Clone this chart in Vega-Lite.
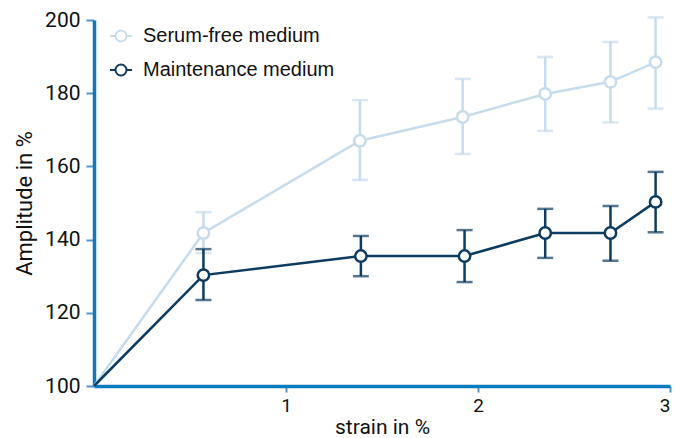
{
  "$schema": "https://vega.github.io/schema/vega-lite/v6.json",
  "width": 576,
  "height": 366,
  "autosize": {"type": "none"},
  "padding": {"left": 94, "top": 20, "right": 6, "bottom": 52},
  "background": "white",
  "config": {"view": {"stroke": null}, "axis": {"grid": false}},
  "data": {
    "values": [
      {"series": "Serum-free medium", "strain": 0, "amp": 100},
      {"series": "Serum-free medium", "strain": 0.57, "amp": 141.8, "lo": 136.3, "hi": 147.5},
      {"series": "Serum-free medium", "strain": 1.385, "amp": 167, "lo": 156.3, "hi": 178.1},
      {"series": "Serum-free medium", "strain": 1.92, "amp": 173.5, "lo": 163.4, "hi": 183.9},
      {"series": "Serum-free medium", "strain": 2.35, "amp": 179.8, "lo": 169.7, "hi": 189.9},
      {"series": "Serum-free medium", "strain": 2.69, "amp": 183.1, "lo": 172, "hi": 194},
      {"series": "Serum-free medium", "strain": 2.925, "amp": 188.5, "lo": 175.8, "hi": 200.7},
      {"series": "Maintenance medium", "strain": 0, "amp": 100},
      {"series": "Maintenance medium", "strain": 0.57, "amp": 130.3, "lo": 123.5, "hi": 137.4},
      {"series": "Maintenance medium", "strain": 1.39, "amp": 135.5, "lo": 130, "hi": 141},
      {"series": "Maintenance medium", "strain": 1.93, "amp": 135.5, "lo": 128.4, "hi": 142.6},
      {"series": "Maintenance medium", "strain": 2.35, "amp": 141.8, "lo": 135, "hi": 148.4},
      {"series": "Maintenance medium", "strain": 2.69, "amp": 141.8, "lo": 134.2, "hi": 149.2},
      {"series": "Maintenance medium", "strain": 2.925, "amp": 150.3, "lo": 142, "hi": 158.5}
    ]
  },
  "encoding": {
    "x": {
      "field": "strain",
      "type": "quantitative",
      "scale": {"domain": [0, 3], "nice": false, "zero": false},
      "axis": {
        "values": [1, 2, 3],
        "title": "strain in %",
        "domainColor": "#0b7bbd",
        "domainWidth": 3.5,
        "tickColor": "#4f93cc",
        "tickWidth": 2,
        "tickSize": 6,
        "labelFont": "Roboto",
        "labelFontSize": 19,
        "labelColor": "#111111",
        "labelPadding": 4,
        "titleFont": "Roboto",
        "titleFontSize": 21,
        "titleFontWeight": "normal",
        "titleColor": "#111111",
        "titlePadding": 1
      }
    }
  },
  "layer": [
    {
      "transform": [{"filter": "datum.series == 'Serum-free medium'"}],
      "mark": {"type": "line", "strokeWidth": 2.5, "color": "#c6dcec"},
      "encoding": {
        "y": {
          "field": "amp",
          "type": "quantitative",
          "title": "Amplitude in %",
          "scale": {"domain": [100, 200], "nice": false, "zero": false},
          "axis": {
            "values": [100, 120, 140, 160, 180, 200],
            "domainColor": "#0b7bbd",
            "domainWidth": 3.5,
            "tickColor": "#4f93cc",
            "tickWidth": 2,
            "tickSize": 8,
            "labelFont": "Roboto",
            "labelFontSize": 21,
            "labelColor": "#111111",
            "labelPadding": 6,
            "titleFont": "Roboto",
            "titleFontSize": 22,
            "titleFontWeight": "normal",
            "titleColor": "#111111",
            "titlePadding": 8
          }
        }
      }
    },
    {
      "transform": [{"filter": "datum.series == 'Serum-free medium' && isValid(datum.lo)"}],
      "mark": {"type": "errorbar", "color": "#c6dcec", "ticks": {"size": 16, "thickness": 2.5}, "thickness": 2.5},
      "encoding": {
        "y": {"field": "lo", "type": "quantitative", "title": "Amplitude in %"},
        "y2": {"field": "hi"}
      }
    },
    {
      "transform": [{"filter": "datum.series == 'Maintenance medium'"}],
      "mark": {"type": "line", "strokeWidth": 2.5, "color": "#0d3c60"},
      "encoding": {
        "y": {"field": "amp", "type": "quantitative", "title": "Amplitude in %"}
      }
    },
    {
      "transform": [{"filter": "datum.series == 'Maintenance medium' && isValid(datum.lo)"}],
      "mark": {"type": "errorbar", "color": "#0d3c60", "ticks": {"size": 16, "thickness": 2.5}, "thickness": 2.5},
      "encoding": {
        "y": {"field": "lo", "type": "quantitative", "title": "Amplitude in %"},
        "y2": {"field": "hi"}
      }
    },
    {
      "transform": [{"filter": "datum.strain > 0"}],
      "mark": {"type": "point", "shape": "circle", "filled": false, "fill": "white", "fillOpacity": 1, "strokeWidth": 2.5, "size": 130, "opacity": 1},
      "encoding": {
        "y": {"field": "amp", "type": "quantitative", "title": "Amplitude in %"},
        "color": {
          "field": "series",
          "type": "nominal",
          "scale": {"domain": ["Serum-free medium", "Maintenance medium"], "range": ["#c6dcec", "#0d3c60"]},
          "legend": {
            "title": null,
            "orient": "none",
            "legendX": 15,
            "legendY": 4,
            "padding": 0,
            "symbolType": "M-1,0H-0.5M0.5,0H1M-0.5,0A0.5,0.5,0,1,1,0.5,0A0.5,0.5,0,1,1,-0.5,0",
            "symbolSize": 484,
            "symbolStrokeWidth": 2,
            "labelFont": "Liberation Sans",
            "labelFontSize": 20,
            "labelColor": "#111111",
            "labelOffset": 10,
            "labelLimit": 400,
            "rowPadding": 12,
            "encode": {
              "symbols": {
                "update": {
                  "shape": {"value": "M-1,0H-0.5M0.5,0H1M-0.5,0A0.5,0.5,0,1,1,0.5,0A0.5,0.5,0,1,1,-0.5,0"},
                  "size": {"value": 484},
                  "fill": {"value": "white"},
                  "fillOpacity": {"value": 1},
                  "opacity": {"value": 1},
                  "strokeWidth": {"value": 2}
                }
              }
            }
          }
        }
      }
    }
  ]
}
